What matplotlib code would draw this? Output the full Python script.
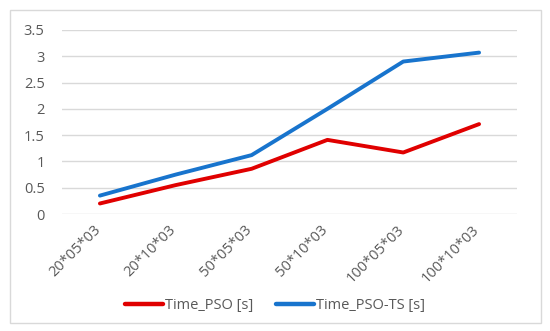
import matplotlib.pyplot as plt
import matplotlib.transforms as mtransforms
from matplotlib.patches import Rectangle

categories = ['20*05*03', '20*10*03', '50*05*03', '50*10*03', '100*05*03', '100*10*03']
time_pso = [0.2, 0.55, 0.86, 1.41, 1.17, 1.71]
time_pso_ts = [0.35, 0.75, 1.12, 2.0, 2.9, 3.07]

plt.rcParams['font.family'] = ['Open Sans', 'DejaVu Sans']
grey = '#595959'

fig = plt.figure(figsize=(5.5, 3.31), dpi=100)
ax = fig.add_axes([62 / 550, 1 - 214 / 331, (517 - 62) / 550, (214 - 30) / 331])

x = range(len(categories))
ax.plot(x, time_pso, color='#e00000', lw=2.8, label='Time_PSO [s]', solid_capstyle='round')
ax.plot(x, time_pso_ts, color='#1874cd', lw=2.8, label='Time_PSO-TS [s]', solid_capstyle='round')

ax.set_xlim(-0.5, len(categories) - 0.5)
ax.set_ylim(0, 3.5)
ax.set_yticks([0, 0.5, 1, 1.5, 2, 2.5, 3, 3.5])
ax.set_yticklabels(['0', '0.5', '1', '1.5', '2', '2.5', '3', '3.5'])
ax.set_xticks(list(x))
ax.set_xticklabels(categories, rotation=45, ha='right', rotation_mode='anchor')
ax.tick_params(axis='both', length=0, labelsize=10.5, colors=grey)
ax.tick_params(axis='y', pad=12.5)
ax.tick_params(axis='x', pad=6)
shift = mtransforms.ScaledTranslation(-7 / 100, 0, fig.dpi_scale_trans)
for lab in ax.get_xticklabels():
    lab.set_transform(lab.get_transform() + shift)
ax.grid(axis='y', color='#d9d9d9', lw=1)
ax.set_axisbelow(True)
for s in ax.spines.values():
    s.set_visible(False)

leg = fig.legend(loc='center', bbox_to_anchor=(0.5, 1 - 306 / 331), ncol=2, frameon=False,
                 fontsize=10.5, handlelength=2.6, handletextpad=0.15, columnspacing=1.6)
for t in leg.get_texts():
    t.set_color(grey)
for h in leg.get_lines():
    h.set_linewidth(3.2)

fig.add_artist(Rectangle((10 / 550, 1 - 323 / 331), 531 / 550, 313 / 331, transform=fig.transFigure,
                         fill=False, edgecolor='#d9d9d9', lw=1))

fig.savefig('out.png', dpi=100)
